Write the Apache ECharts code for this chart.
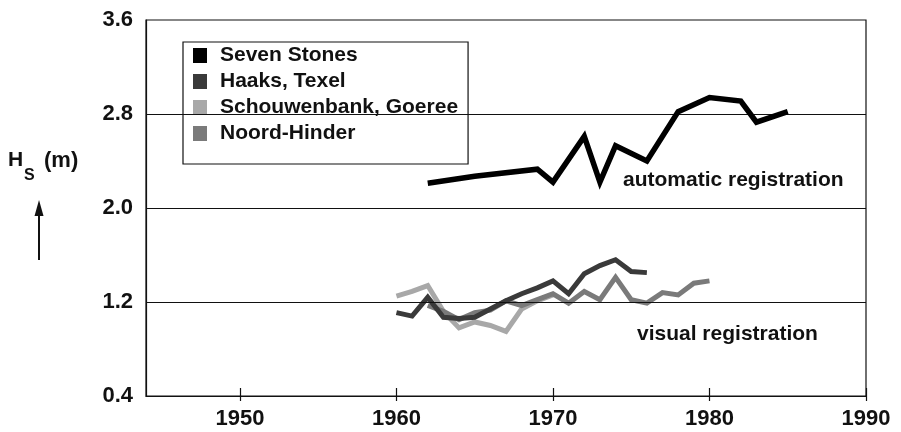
<!DOCTYPE html>
<html><head><meta charset="utf-8">
<script src="https://cdn.jsdelivr.net/npm/echarts@6/dist/echarts.min.js"></script>
<style>html,body{margin:0;padding:0;background:#fff}#c{width:901px;height:432px}</style>
</head><body><div id="c"></div>
<script>
const xTicks = [1950, 1960, 1970, 1980, 1990];
const yTicks = [0.4, 1.2, 2.0, 2.8, 3.6];
const gridValues = [1.2, 2.0, 2.8];

const sevenStonesYears = [1962, 1965, 1969, 1970, 1972, 1973, 1974, 1976, 1978, 1980, 1982, 1983, 1985];
const sevenStonesHs    = [2.21, 2.27, 2.33, 2.22, 2.61, 2.22, 2.53, 2.40, 2.82, 2.94, 2.91, 2.73, 2.82];

const haaksYears = [1960, 1961, 1962, 1963, 1964, 1965, 1966, 1967, 1968, 1969, 1970, 1971, 1972, 1973, 1974, 1975, 1976];
const haaksHs    = [1.11, 1.08, 1.24, 1.07, 1.06, 1.07, 1.14, 1.21, 1.27, 1.32, 1.38, 1.27, 1.44, 1.51, 1.56, 1.46, 1.45];

const schouwenYears = [1960, 1961, 1962, 1963, 1964, 1965, 1966, 1967, 1968, 1969, 1970];
const schouwenHs    = [1.25, 1.29, 1.34, 1.12, 0.98, 1.03, 1.00, 0.95, 1.14, 1.21, 1.26];

const noordYears = [1962, 1963, 1964, 1965, 1966, 1967, 1968, 1969, 1970, 1971, 1972, 1973, 1974, 1975, 1976, 1977, 1978, 1979, 1980];
const noordHs    = [1.17, 1.12, 1.05, 1.11, 1.13, 1.21, 1.17, 1.22, 1.27, 1.19, 1.29, 1.22, 1.41, 1.22, 1.19, 1.28, 1.26, 1.36, 1.38];

const seriesNames = ['Seven Stones', 'Haaks, Texel', 'Schouwenbank, Goeree', 'Noord-Hinder'];

function zip(xs, ys) { return xs.map((x, i) => [x, ys[i]]); }

const FONT = '"Liberation Sans", Arial, Helvetica, sans-serif';
const INK = '#111';

const chart = echarts.init(document.getElementById('c'), null, {renderer: 'canvas'});

function lineSeries(name, data, color, width, z) {
  return {
    name: name, type: 'line', data: data, symbol: 'none', z: z,
    lineStyle: {color: color, width: width, join: 'miter'},
    itemStyle: {color: color},
    animation: false
  };
}

const s0 = lineSeries(seriesNames[0], zip(sevenStonesYears, sevenStonesHs), '#000', 5.5, 5);
s0.markLine = {
  silent: true, symbol: 'none', label: {show: false}, animation: false,
  lineStyle: {color: INK, width: 1.2, type: 'solid'},
  data: gridValues.map(v => ({yAxis: v}))
};

const labelStyle = {fontSize: 22, fontFamily: FONT, fontWeight: 'bold', color: INK};

chart.setOption({
  animation: false,
  backgroundColor: '#fff',
  grid: {left: 146, right: 35, top: 20, bottom: 36, show: true, borderColor: INK, borderWidth: 1.2, backgroundColor: 'transparent'},
  xAxis: [{
    type: 'value', min: 1944, max: 1990,
    axisLine: {show: true, lineStyle: {color: INK, width: 1.2}},
    axisTick: {show: true, inside: true, length: 8, customValues: xTicks, lineStyle: {color: INK, width: 1.2}},
    axisLabel: Object.assign({customValues: xTicks, formatter: v => String(v), margin: 12}, labelStyle),
    splitLine: {show: false}
  }, {
    type: 'value', min: 1944, max: 1990, position: 'bottom',
    axisLine: {show: false},
    axisTick: {show: true, inside: false, length: 5, customValues: xTicks, lineStyle: {color: INK, width: 1.2}},
    axisLabel: {show: false},
    splitLine: {show: false}
  }],
  yAxis: {
    type: 'value', min: 0.4, max: 3.6,
    axisLine: {show: true, lineStyle: {color: INK, width: 1.2}},
    axisTick: {show: false},
    axisLabel: Object.assign({customValues: yTicks, formatter: v => v.toFixed(1), margin: 13}, labelStyle),
    splitLine: {show: false}
  },
  legend: {
    orient: 'vertical', left: 183, top: 42,
    padding: [3, 10, 20, 10], itemGap: 5, itemWidth: 14, itemHeight: 15,
    icon: 'rect', backgroundColor: '#fff', borderColor: INK, borderWidth: 1.2,
    textStyle: {fontSize: 21, fontFamily: FONT, fontWeight: 'bold', color: INK, padding: [0, 0, 0, 8], lineHeight: 21},
    data: seriesNames, selectedMode: false
  },
  series: [
    s0,
    lineSeries(seriesNames[1], zip(haaksYears, haaksHs), '#3a3a3a', 5, 4),
    lineSeries(seriesNames[2], zip(schouwenYears, schouwenHs), '#a8a8a8', 5, 3),
    lineSeries(seriesNames[3], zip(noordYears, noordHs), '#7a7a7a', 5, 3)
  ],
  graphic: [
    {type: 'text', left: 8, top: 150, style: {text: 'H', font: 'bold 21px "Liberation Sans"', fill: INK}},
    {type: 'text', left: 24, top: 168, style: {text: 'S', font: 'bold 16px "Liberation Sans"', fill: INK}},
    {type: 'text', left: 44, top: 150, style: {text: '(m)', font: 'bold 22px "Liberation Sans"', fill: INK}},
    {type: 'line', shape: {x1: 39, y1: 260, x2: 39, y2: 212}, style: {stroke: INK, lineWidth: 2}},
    {type: 'polygon', shape: {points: [[34.5, 216], [39, 200], [43.5, 216]]}, style: {fill: INK}},
    {type: 'text', left: 623, top: 170, style: {text: 'automatic registration', font: 'bold 21px "Liberation Sans"', fill: INK}},
    {type: 'text', left: 637, top: 324, style: {text: 'visual registration', font: 'bold 21px "Liberation Sans"', fill: INK}}
  ]
});
</script></body></html>
